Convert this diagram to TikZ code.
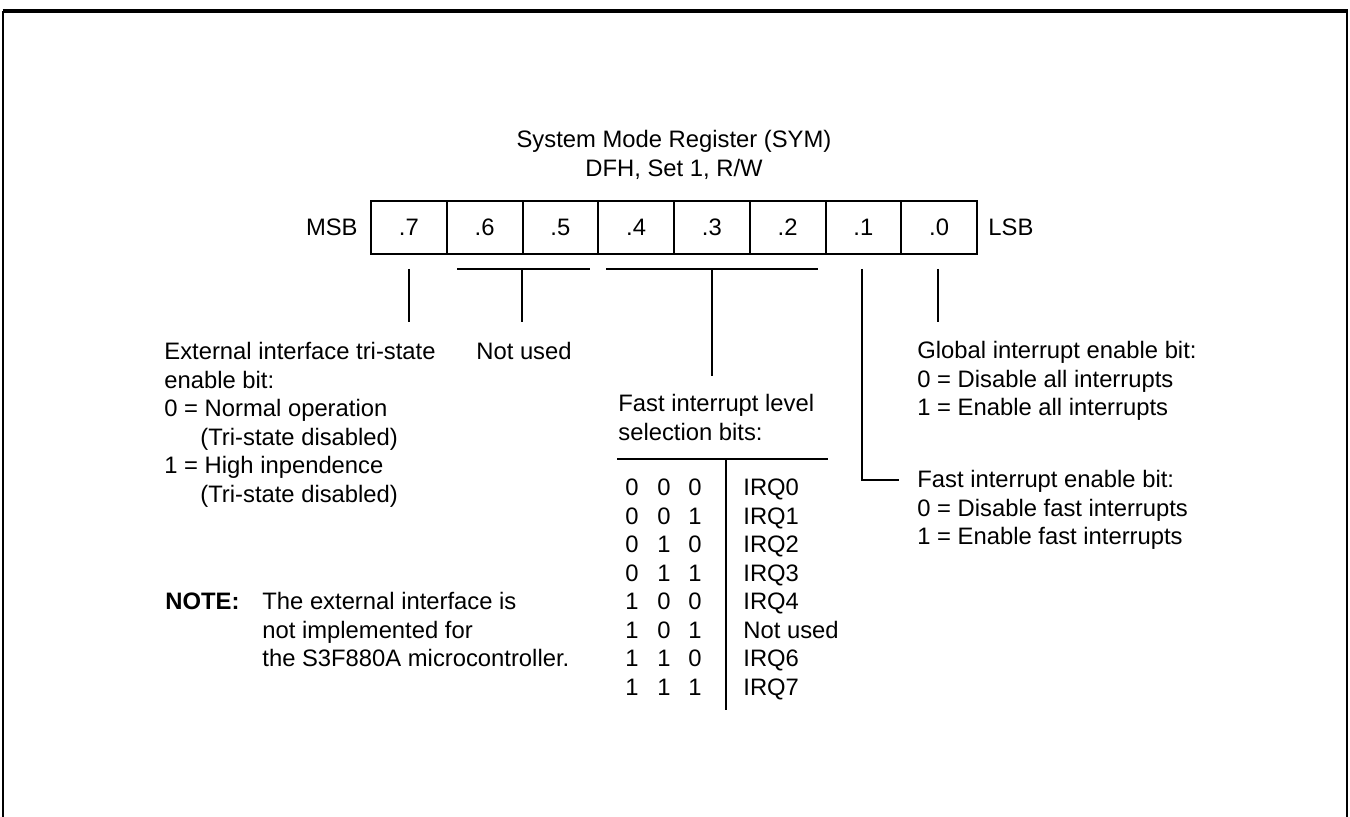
\documentclass[tikz,border=0pt]{standalone}
\usepackage{fontspec}
\setmainfont{Liberation Sans}
\newcommand\lstack[1]{\vtop{\baselineskip=14.25pt\lineskiplimit=-20pt\halign{##\hfil\cr#1\crcr}}}
\newcommand\cstack[1]{\vtop{\baselineskip=14.25pt\lineskiplimit=-20pt\halign{\hfil##\hfil\cr#1\crcr}}}
\begin{document}
\begin{tikzpicture}[x=0.5pt,y=-0.5pt,
  every node/.style={inner sep=0pt, font=\fontsize{11.9pt}{14.25pt}\selectfont},
  ln/.style={line width=1pt},
  cell/.style={draw, line width=1pt, minimum width=37.875pt, minimum height=26.5pt, inner sep=0pt}]
\useasboundingbox (0,0) rectangle (1350,817);
% frame
\draw[line width=1pt] (3,817) -- (3,11);
\draw[line width=1pt] (1347,11) -- (1347,817);
\draw[line width=1.7pt] (2.5,11) -- (1347.5,11);
% title
\node[anchor=base] (title) at (674,148) {\cstack{System Mode Register (SYM)\cr DFH, Set 1, R/W}};
% register cells
\foreach \i/\t in {0/7,1/6,2/5,3/4,4/3,5/2,6/1,7/0}
  \node[cell] (b\t) at ({371+75.75*(\i+0.5)},227.5) {.\t};
\node[anchor=base east] (msb) at (358,236) {MSB};
\node[anchor=base west] (lsb) at (988,236) {LSB};
% connector coordinates
\coordinate (c7a) at (409,269); \coordinate (c7b) at (409,322);
\coordinate (c65l) at (457,269); \coordinate (c65r) at (590,269);
\coordinate (c65a) at (522,269); \coordinate (c65b) at (522,322);
\coordinate (c42l) at (606,269); \coordinate (c42r) at (818,269);
\coordinate (c42a) at (712,269); \coordinate (c42b) at (712,376);
\coordinate (c1a) at (862,269); \coordinate (c1b) at (862,480); \coordinate (c1c) at (899,480);
\coordinate (c0a) at (938,269); \coordinate (c0b) at (938,322);
\coordinate (tl) at (617,459); \coordinate (tr) at (828,459);
\coordinate (tv) at (726,459); \coordinate (tb) at (726,710);
% connectors
\draw[ln] (c7a) -- (c7b);
\draw[ln] (c65l) -- (c65r);
\draw[ln] (c65a) -- (c65b);
\draw[ln] (c42l) -- (c42r);
\draw[ln] (c42a) -- (c42b);
\draw[ln] (c1a) -- (c1b) -- (c1c);
\draw[ln] (c0a) -- (c0b);
\draw[ln] (tl) -- (tr);
\draw[ln] (tv) -- (tb);
% left description
\node[anchor=base west] (ext) at (164,360) {\lstack{External interface tri-state\cr
  enable bit:\cr
  0 = Normal operation\cr
  \kern18pt(Tri-state disabled)\cr
  1 = High inpendence\cr
  \kern18pt(Tri-state disabled)}};
\node[anchor=base] (nu) at (524,360) {Not used};
% fast interrupt level
\node[anchor=base west] (fil) at (618,412) {\lstack{Fast interrupt level\cr selection bits:}};
\node[anchor=base] (d2) at (632,496) {\cstack{0\cr0\cr0\cr0\cr1\cr1\cr1\cr1}};
\node[anchor=base] (d1) at (664,496) {\cstack{0\cr0\cr1\cr1\cr0\cr0\cr1\cr1}};
\node[anchor=base] (d0) at (695,496) {\cstack{0\cr1\cr0\cr1\cr0\cr1\cr0\cr1}};
\node[anchor=base west] (irq) at (743,496) {\lstack{IRQ0\cr IRQ1\cr IRQ2\cr IRQ3\cr IRQ4\cr Not used\cr IRQ6\cr IRQ7}};
% right descriptions
\node[anchor=base west] (gie) at (917,359) {\lstack{Global interrupt enable bit:\cr
  0 = Disable all interrupts\cr
  1 = Enable all interrupts}};
\node[anchor=base west] (fie) at (917,488) {\lstack{Fast interrupt enable bit:\cr
  0 = Disable fast interrupts\cr
  1 = Enable fast interrupts}};
% note
\node[anchor=base west] (notelbl) at (165,610) {\bfseries NOTE:};
\node[anchor=base west] (notetxt) at (262,610) {\lstack{The external interface is\cr
  not implemented for\cr
  the S3F880A microcontroller.}};
\end{tikzpicture}
\end{document}
